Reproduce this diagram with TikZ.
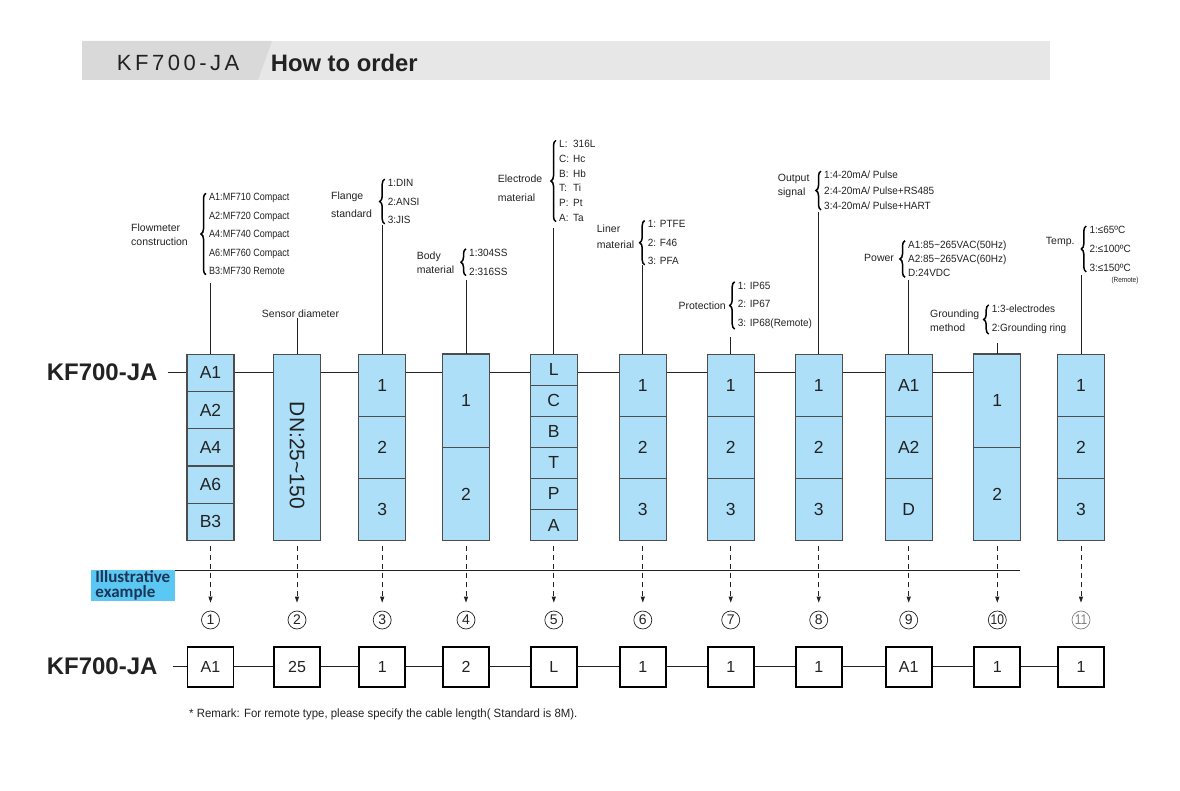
\documentclass[tikz,border=0pt]{standalone}
\usepackage{graphicx}
\usepackage{fontspec}
\setmainfont{Liberation Sans}
\newfontfamily\itemfont[FakeStretch=0.95]{Liberation Sans}
\newfontfamily\narrowfont[FakeStretch=0.86]{Liberation Sans}
\newfontfamily\illfont{Carlito}
\usetikzlibrary{positioning,decorations.pathreplacing,arrows.meta}
\definecolor{boxfill}{HTML}{ADE0F8}
\definecolor{boxline}{HTML}{4D4D4D}
\definecolor{headdark}{HTML}{D9D9DA}
\definecolor{headlight}{HTML}{E7E7E8}
\definecolor{illblue}{HTML}{5AC8F2}
\definecolor{illtext}{HTML}{1D3557}
\definecolor{inkgray}{HTML}{222222}
\tikzset{
  cell/.style={draw=boxline, fill=boxfill, line width=1.1pt, minimum width=47pt, inner sep=0pt, anchor=north, text=inkgray, font=\fontsize{17.5}{17.5}\selectfont},
  ebox/.style={draw=black, fill=white, line width=1.8pt, minimum width=46pt, minimum height=40pt, inner sep=0pt, text=inkgray, font=\fontsize{16}{16}\selectfont},
  circnum/.style={circle, draw=#1, text=#1, line width=0.7pt, minimum size=18pt, inner sep=0pt, font=\fontsize{14}{14}\selectfont},
  cat/.style={anchor=west, align=left, inner sep=0pt, text=inkgray},
  opts/.style={anchor=west, align=left, inner sep=0pt, text=inkgray},
  curly/.style={decorate, decoration={brace, amplitude=5pt}, line width=1.5pt},
  lead/.style={draw=inkgray, line width=0.8pt},
  dasharrow/.style={draw=inkgray, line width=0.8pt, dash pattern=on 5pt off 4pt, -{Triangle[length=6pt,width=4pt]}, shorten <=5pt, shorten >=8pt},
}
\begin{document}
\begin{tikzpicture}[x=1pt,y=-1pt]
\useasboundingbox (0,0) rectangle (1180,791);
\fill[headlight] (82,41) rectangle (1050,80);
\fill[headdark] (82,41) -- (272,41) -- (258,80) -- (82,80) -- cycle;
\node[anchor=west, inner sep=0pt, text=inkgray, font=\fontsize{22}{22}\selectfont\addfontfeature{LetterSpace=16}] (hmodel) at (116.7,63) {KF700-JA};
\node[anchor=west, inner sep=0pt, text=inkgray, font=\bfseries\fontsize{23.8}{24}\selectfont] (htitle) at (270.7,63) {How to order};
\node[anchor=east, inner sep=0pt, text=inkgray, font=\bfseries\fontsize{24}{24}\selectfont] (kf) at (157.7,372) {KF700-JA};
\node[anchor=east, inner sep=0pt, text=inkgray, font=\bfseries\fontsize{24}{24}\selectfont] (kfe) at (157.7,666.7) {KF700-JA};
\foreach \col/\x/\n/\items/\ty/\eg/\mc in {
  1/210.5/5/{A1,A2,A4,A6,B3}/283/A1/inkgray,
  2/297/1/{{\fontsize{21}{21}\selectfont\rotatebox{-90}{\hspace{16pt}DN:25\textasciitilde150}}}/318/25/inkgray,
  3/382.2/3/{1,2,3}/225/1/inkgray,
  4/466/2/{1,2}/280/2/inkgray,
  5/553.8/6/{L,C,B,T,P,A}/228/L/inkgray,
  6/642.8/3/{1,2,3}/265/1/inkgray,
  7/730.7/3/{1,2,3}/337/1/inkgray,
  8/818.7/3/{1,2,3}/212/1/inkgray,
  9/908.7/3/{A1,A2,D}/280/A1/inkgray,
  10/997.3/2/{1,2}/343/1/inkgray,
  11/1081/3/{1,2,3}/275/1/gray}{
  \pgfmathsetmacro\h{186.5/\n}
  \foreach \t [count=\i] in \items
    \node[cell, minimum height=\h*1pt] (c\col-\i) at (\x,{353.5+(\i-1)*\h}) {\t};
  \coordinate (lt\col) at (\x,\ty);
  \draw[lead] (c\col-1.north) -- (lt\col);
  \node[circnum=\mc] (m\col) at (\x,620) {\ifnum\col>9 \narrowfont\fi\col};
  \draw[dasharrow] (c\col-\n.south) -- (m\col.north);
  \node[ebox] (e\col) at (\x,666.7) {\eg};
}
\draw[lead, shorten <=10pt] (kf.east) -- (kf.east -| c1-1.west);
\foreach \a [evaluate=\a as \b using int(\a+1)] in {1,...,9}
  \draw[lead] (kf.east -| c\a-1.east) -- (kf.east -| c\b-1.west);
\draw[lead, shorten <=15pt] (kfe.east) -- (e1.west);
\foreach \a [evaluate=\a as \b using int(\a+1)] in {1,...,10}
  \draw[lead] (e\a.east) -- (e\b.west);
\node[opts, font=\narrowfont\fontsize{10.5}{18.4}\selectfont] (o1) at (209,234) {A1:MF710 Compact\\A2:MF720 Compact\\A4:MF740 Compact\\A6:MF760 Compact\\B3:MF730 Remote};
\draw[curly] ([xshift=-3pt]o1.south west) -- ([xshift=-3pt]o1.north west);
\node[cat, font=\fontsize{10.5}{14}\selectfont] (k1) at (131,235) {Flowmeter\\construction};
\node[inner sep=0pt, text=inkgray, font=\fontsize{10.5}{12}\selectfont] (k2) at (300.5,314) {Sensor diameter};
\node[opts, font=\itemfont\fontsize{10.5}{18.5}\selectfont] (o3) at (387.7,201.5) {1:DIN\\2:ANSI\\3:JIS};
\draw[curly] ([xshift=-3pt]o3.south west) -- ([xshift=-3pt]o3.north west);
\node[cat, font=\fontsize{10.5}{18}\selectfont] (k3) at (331,205) {Flange\\standard};
\node[opts, font=\itemfont\fontsize{10.5}{19}\selectfont] (o4) at (469,262.2) {1:304SS\\2:316SS};
\draw[curly] ([xshift=-3pt]o4.south west) -- ([xshift=-3pt]o4.north west);
\node[cat, font=\fontsize{10.5}{13.3}\selectfont] (k4) at (416.7,262.6) {Body\\material};
\node[opts, font=\itemfont\fontsize{10.5}{14.7}\selectfont] (o5) at (559,181) {\makebox[14pt][l]{L:}316L\\\makebox[14pt][l]{C:}Hc\\\makebox[14pt][l]{B:}Hb\\\makebox[14pt][l]{T:}Ti\\\makebox[14pt][l]{P:}Pt\\\makebox[14pt][l]{A:}Ta};
\draw[curly] ([xshift=-3pt]o5.south west) -- ([xshift=-3pt]o5.north west);
\node[cat, font=\fontsize{10.5}{18.7}\selectfont] (k5) at (497.7,188.3) {Electrode\\material};
\node[opts, font=\itemfont\fontsize{10.5}{18.3}\selectfont] (o6) at (647.7,242.7) {1: PTFE\\2: F46\\3: PFA};
\draw[curly] ([xshift=-3pt]o6.south west) -- ([xshift=-3pt]o6.north west);
\node[cat, font=\fontsize{10.5}{15.7}\selectfont] (k6) at (596.7,237) {Liner\\material};
\node[opts, font=\itemfont\fontsize{10.5}{18.7}\selectfont] (o7) at (737.7,305.4) {1: IP65\\2: IP67\\3: IP68(Remote)};
\draw[curly] ([xshift=-3pt]o7.south west) -- ([xshift=-3pt]o7.north west);
\node[cat, font=\fontsize{10.5}{12}\selectfont] (k7) at (678.3,305.7) {Protection};
\node[opts, font=\itemfont\fontsize{10.5}{15.3}\selectfont] (o8) at (824,190.5) {1:4-20mA/ Pulse\\2:4-20mA/ Pulse+RS485\\3:4-20mA/ Pulse+HART};
\draw[curly] ([xshift=-3pt]o8.south west) -- ([xshift=-3pt]o8.north west);
\node[cat, font=\fontsize{10.5}{14.3}\selectfont] (k8) at (777.7,186) {Output\\signal};
\node[opts, font=\itemfont\fontsize{10.5}{14.2}\selectfont] (o9) at (908,259) {A1:85\textasciitilde265VAC(50Hz)\\A2:85\textasciitilde265VAC(60Hz)\\D:24VDC};
\draw[curly] ([xshift=-3pt]o9.south west) -- ([xshift=-3pt]o9.north west);
\node[cat, font=\fontsize{10.5}{12}\selectfont] (k9) at (864,258.3) {Power};
\node[opts, font=\itemfont\fontsize{10.5}{19}\selectfont] (o10) at (991.7,319.5) {1:3-electrodes\\2:Grounding ring};
\draw[curly] ([xshift=-3pt]o10.south west) -- ([xshift=-3pt]o10.north west);
\node[cat, font=\fontsize{10.5}{14.3}\selectfont] (k10) at (930,321) {Grounding\\method};
\node[opts, font=\itemfont\fontsize{10.5}{19}\selectfont] (o11) at (1089.3,249) {1:≤65ºC\\2:≤100ºC\\3:≤150ºC};
\draw[curly] ([xshift=-3pt]o11.south west) -- ([xshift=-3pt]o11.north west);
\node[cat, font=\fontsize{10.5}{12}\selectfont] (k11) at (1045.7,241.7) {Temp.};
\node[inner sep=0pt, text=inkgray, font=\narrowfont\fontsize{7.5}{8}\selectfont] (remote) at (1125,281) {(Remote)};
\node[anchor=north west, fill=illblue, text=illtext, inner sep=0pt, minimum width=83.3pt, minimum height=31.7pt, align=left, font=\illfont\bfseries\fontsize{17}{15}\selectfont] (ill) at (91,569.3) {Illustrative\\example};
\coordinate (illend) at (1020,570);
\draw[lead] (ill.north east |- illend) -- (illend);
\node[anchor=west, inner sep=0pt, text=inkgray, font=\itemfont\fontsize{12}{13}\selectfont] (remark) at (189,714) {* Remark: For remote type, please specify the cable length( Standard is 8M).};
\end{tikzpicture}
\end{document}
